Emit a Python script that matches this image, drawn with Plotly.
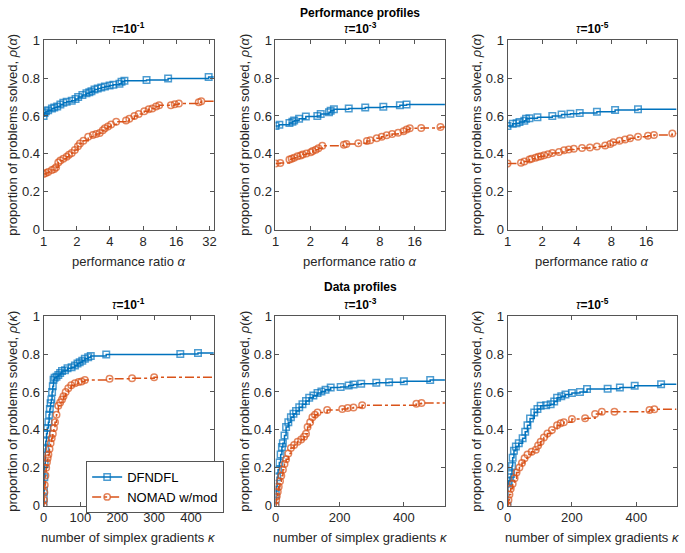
import math
import plotly.graph_objects as go
from plotly.subplots import make_subplots

# ---------------- data ----------------
# Performance profiles, tau = 1e-1
pp1_dfn_alpha = [1.00, 1.02, 1.05, 1.10, 1.19, 1.25, 1.33, 1.42, 1.51, 1.62, 1.80, 1.95, 2.06, 2.25, 2.45,
                 2.60, 2.72, 2.90, 3.10, 3.34, 3.60, 3.97, 4.30, 4.88, 5.10, 5.42, 8.60, 13.5, 31.5]
pp1_dfn_rho = [0.600, 0.615, 0.625, 0.630, 0.640, 0.645, 0.650, 0.660, 0.670, 0.675, 0.680, 0.690, 0.700, 0.710, 0.720,
               0.725, 0.730, 0.740, 0.745, 0.750, 0.755, 0.760, 0.765, 0.770, 0.780, 0.785, 0.790, 0.797, 0.805]
pp1_nom_alpha = [1.00, 1.05, 1.10, 1.19, 1.25, 1.30, 1.36, 1.42, 1.51, 1.62, 1.70, 1.80, 1.92, 2.05, 2.14, 2.30,
                 2.54, 2.80, 3.00, 3.23, 3.45, 3.60, 3.84, 4.10, 4.56, 5.60, 6.00, 6.67, 7.30, 8.20, 9.00, 9.70,
                 10.5, 11.2, 14.3, 15.5, 16.9, 25.6, 27.0]
pp1_nom_rho = [0.294, 0.300, 0.305, 0.315, 0.320, 0.330, 0.355, 0.365, 0.375, 0.385, 0.395, 0.405, 0.420, 0.440,
               0.455, 0.470, 0.490, 0.500, 0.505, 0.510, 0.525, 0.535, 0.545, 0.555, 0.570, 0.576, 0.585, 0.600,
               0.610, 0.625, 0.635, 0.640, 0.650, 0.656, 0.657, 0.662, 0.666, 0.672, 0.678]

# Performance profiles, tau = 1e-3
pp3_dfn_alpha = [1.00, 1.08, 1.32, 1.40, 1.45, 1.60, 1.83, 2.30, 2.46, 2.90, 3.00, 3.20, 4.30, 5.97, 8.56, 11.9, 13.6]
pp3_dfn_rho = [0.547, 0.554, 0.563, 0.570, 0.576, 0.585, 0.597, 0.600, 0.610, 0.619, 0.628, 0.636, 0.640, 0.645,
               0.649, 0.656, 0.660]
pp3_nom_alpha = [1.00, 1.10, 1.32, 1.38, 1.45, 1.55, 1.65, 1.72, 1.85, 2.02, 2.10, 2.23, 2.35, 2.54, 3.90, 4.10,
                 5.20, 6.17, 6.60, 7.50, 8.30, 9.15, 10.2, 11.5, 12.8, 13.6, 14.5, 18.2, 26.7]
pp3_nom_rho = [0.350, 0.352, 0.370, 0.375, 0.380, 0.388, 0.392, 0.397, 0.402, 0.409, 0.415, 0.422, 0.430, 0.443,
               0.448, 0.452, 0.456, 0.468, 0.472, 0.482, 0.490, 0.499, 0.505, 0.511, 0.520, 0.528, 0.535, 0.537,
               0.542]

# Performance profiles, tau = 1e-5
pp5_dfn_alpha = [1.00, 1.11, 1.20, 1.27, 1.40, 1.45, 1.55, 1.82, 2.45, 2.95, 3.52, 4.24, 5.98, 8.60, 13.6]
pp5_dfn_rho = [0.547, 0.559, 0.562, 0.568, 0.575, 0.585, 0.588, 0.593, 0.600, 0.608, 0.612, 0.615, 0.622, 0.631,
               0.636]
pp5_nom_alpha = [1.00, 1.31, 1.40, 1.55, 1.62, 1.75, 1.85, 1.95, 2.08, 2.25, 2.45, 2.80, 3.10, 3.40, 3.77, 4.44,
                 5.20, 5.98, 7.05, 7.80, 8.30, 9.40, 10.5, 11.6, 13.6, 16.6, 18.7, 27.0]
pp5_nom_rho = [0.349, 0.354, 0.360, 0.371, 0.375, 0.380, 0.385, 0.388, 0.393, 0.398, 0.405, 0.410, 0.419, 0.423,
               0.427, 0.431, 0.434, 0.439, 0.444, 0.452, 0.462, 0.470, 0.476, 0.482, 0.491, 0.496, 0.500, 0.508]

# Data profiles, tau = 1e-1
dp1_dfn_kappa = [0, 0.5, 1, 2, 3, 4.5, 6, 8, 10, 13, 15, 17, 19, 21, 23, 25, 27, 30, 35, 40, 45, 50, 58, 65, 76,
                 85, 92, 98, 105, 112, 121, 128, 170, 371, 419]
dp1_dfn_rho = [0.0, 0.04, 0.08, 0.15, 0.22, 0.30, 0.34, 0.38, 0.41, 0.44, 0.48, 0.51, 0.54, 0.56, 0.60, 0.63, 0.665,
               0.675, 0.68, 0.69, 0.70, 0.71, 0.715, 0.725, 0.73, 0.74, 0.75, 0.757, 0.765, 0.775, 0.783, 0.79,
               0.797, 0.80, 0.805]
dp1_nom_kappa = [0, 1, 2, 3, 5, 7, 9, 11, 13, 16, 19, 22, 25, 28, 31, 35, 40, 45, 50, 54, 60, 67, 75, 85, 95, 103,
                 112, 179, 240, 300]
dp1_nom_rho = [0.0, 0.03, 0.07, 0.11, 0.16, 0.20, 0.23, 0.25, 0.27, 0.30, 0.33, 0.356, 0.38, 0.41, 0.44, 0.48,
               0.527, 0.545, 0.56, 0.578, 0.60, 0.62, 0.635, 0.646, 0.652, 0.655, 0.663, 0.669, 0.672, 0.678]

# Data profiles, tau = 1e-3
dp3_dfn_kappa = [0, 1, 2, 5, 8, 12, 16, 20, 23, 28, 33, 40, 48, 56, 64, 74, 84, 95, 105, 118, 131, 143, 156, 172,
                 203, 228, 243, 267, 314, 354, 400, 482]
dp3_dfn_rho = [0.0, 0.06, 0.10, 0.15, 0.19, 0.228, 0.27, 0.31, 0.33, 0.37, 0.415, 0.44, 0.467, 0.485, 0.50, 0.52,
               0.535, 0.552, 0.569, 0.582, 0.595, 0.603, 0.612, 0.624, 0.626, 0.634, 0.640, 0.643, 0.648, 0.651,
               0.656, 0.663]
dp3_nom_kappa = [0, 2, 4, 7, 10, 14, 18, 23, 28, 33, 40, 48, 58, 69, 80, 89, 95, 100, 108, 115, 123, 131, 161, 208,
                 225, 243, 270, 439, 455]
dp3_nom_rho = [0.0, 0.03, 0.05, 0.074, 0.10, 0.13, 0.159, 0.19, 0.22, 0.245, 0.275, 0.305, 0.32, 0.338, 0.35,
               0.364, 0.38, 0.415, 0.44, 0.467, 0.48, 0.492, 0.505, 0.51, 0.515, 0.518, 0.53, 0.538, 0.542]

# Data profiles, tau = 1e-5
dp5_dfn_kappa = [0, 1, 4, 8, 11, 14, 16, 20, 26, 35, 47, 55, 62, 70, 83, 93, 103, 120, 134, 145, 154, 167, 180, 200,
                 225, 247, 311, 349, 395, 477]
dp5_dfn_rho = [0.0, 0.116, 0.13, 0.15, 0.168, 0.21, 0.253, 0.29, 0.313, 0.33, 0.356, 0.39, 0.424, 0.46, 0.492,
               0.51, 0.527, 0.53, 0.535, 0.55, 0.569, 0.578, 0.587, 0.595, 0.60, 0.615, 0.617, 0.624, 0.633, 0.641]
dp5_nom_kappa = [0, 3, 6, 10, 16, 22, 28, 37, 45, 53, 62, 75, 88, 95, 103, 113, 124, 138, 154, 165, 175, 200, 241,
                 272, 293, 332, 441, 456]
dp5_nom_rho = [0.0, 0.03, 0.06, 0.09, 0.116, 0.145, 0.175, 0.202, 0.225, 0.25, 0.27, 0.285, 0.296, 0.318, 0.338,
               0.36, 0.381, 0.40, 0.424, 0.435, 0.441, 0.458, 0.462, 0.484, 0.496, 0.496, 0.505, 0.509]

tau_labels = ["10<sup>-1</sup>", "10<sup>-3</sup>", "10<sup>-5</sup>"]
series_names = ["DFNDFL", "NOMAD w/mod"]
pp_xmax = [35.1, 29.2, 29.4]
dp_xmax = [462, 528, 525]
pp_ticks = [[1, 2, 4, 8, 16, 32], [1, 2, 4, 8, 16], [1, 2, 4, 8, 16]]
dp_ticks = [[0, 100, 200, 300, 400], [0, 200, 400], [0, 200, 400]]

# ---------------- figure ----------------
W, H = 685, 553
BLUE = "#0072BD"
ORANGE = "#D95319"
FONT = "Liberation Sans, Arial, sans-serif"
TXT = "#262626"

fig = make_subplots(rows=2, cols=3)

col_px = [(40, 212), (274.3, 445.5), (508.7, 679.5)]
row_px = [(34, 229), (317.7, 512.7)]


def add_curve(x, y, xend, row, col, color, symbol, dash, name, showlegend):
    xs = list(x) + [xend]
    ys = list(y) + [y[-1]]
    sizes = [6.5] * len(x) + [0]
    fig.add_trace(go.Scatter(
        x=xs, y=ys, mode="lines+markers", line=dict(color=color, width=1.5, dash=dash, shape="hv"),
        marker=dict(symbol=symbol, size=sizes, color=color, line=dict(color=color, width=1.5)),
        name=name, showlegend=showlegend, legendgroup=name), row=row, col=col)


pp_data = [(pp1_dfn_alpha, pp1_dfn_rho, pp1_nom_alpha, pp1_nom_rho),
           (pp3_dfn_alpha, pp3_dfn_rho, pp3_nom_alpha, pp3_nom_rho),
           (pp5_dfn_alpha, pp5_dfn_rho, pp5_nom_alpha, pp5_nom_rho)]
dp_data = [(dp1_dfn_kappa, dp1_dfn_rho, dp1_nom_kappa, dp1_nom_rho),
           (dp3_dfn_kappa, dp3_dfn_rho, dp3_nom_kappa, dp3_nom_rho),
           (dp5_dfn_kappa, dp5_dfn_rho, dp5_nom_kappa, dp5_nom_rho)]

for c in range(3):
    xa, ya, xb, yb = pp_data[c]
    add_curve(xa, ya, pp_xmax[c], 1, c + 1, BLUE, "square-open", "solid", series_names[0], False)
    add_curve(xb, yb, pp_xmax[c], 1, c + 1, ORANGE, "circle-open", "dashdot", series_names[1], False)
    xa, ya, xb, yb = dp_data[c]
    add_curve(xa, ya, dp_xmax[c], 2, c + 1, BLUE, "square-open", "solid", series_names[0], c == 0)
    add_curve(xb, yb, dp_xmax[c], 2, c + 1, ORANGE, "circle-open", "dashdot", series_names[1], c == 0)

axis_common = dict(showline=True, linecolor="#555555", linewidth=1, mirror="ticks", ticks="inside",
                   ticklen=4, tickcolor="#555555", showgrid=False, zeroline=False,
                   tickfont=dict(family=FONT, size=13, color=TXT))

for r in range(2):
    for c in range(3):
        idx = r * 3 + c + 1
        xd = [col_px[c][0] / W, col_px[c][1] / W]
        yd = [1 - row_px[r][1] / H, 1 - row_px[r][0] / H]
        xkey = "xaxis" if idx == 1 else f"xaxis{idx}"
        ykey = "yaxis" if idx == 1 else f"yaxis{idx}"
        if r == 0:
            xcfg = dict(type="log", range=[0, math.log10(pp_xmax[c])], tickvals=pp_ticks[c],
                        ticktext=[str(v) for v in pp_ticks[c]])
        else:
            xcfg = dict(type="linear", range=[0, dp_xmax[c]], tickvals=dp_ticks[c],
                        ticktext=[str(v) for v in dp_ticks[c]])
        fig.layout[xkey].update(domain=xd, **xcfg, **axis_common)
        fig.layout[ykey].update(domain=yd, range=[0, 1], tickvals=[0, 0.2, 0.4, 0.6, 0.8, 1],
                                ticktext=["0", "0.2", "0.4", "0.6", "0.8", "1"], **axis_common)

annotations = []
# section titles
annotations.append(dict(text="<b>Performance profiles</b>", x=(col_px[1][0] + col_px[1][1]) / 2 / W, y=1 - 6 / H,
                        xref="paper", yref="paper", showarrow=False, xanchor="center", yanchor="middle",
                        font=dict(family=FONT, size=12, color="#000000")))
annotations.append(dict(text="<b>Data profiles</b>", x=(col_px[1][0] + col_px[1][1]) / 2 / W, y=1 - 288 / H,
                        xref="paper", yref="paper", showarrow=False, xanchor="center", yanchor="middle",
                        font=dict(family=FONT, size=12, color="#000000")))
for r, ty in enumerate([22, 305]):
    for c in range(3):
        annotations.append(dict(text=f"<i>τ</i><b>={tau_labels[c]}</b>",
                                x=(col_px[c][0] + col_px[c][1]) / 2 / W, y=1 - ty / H,
                                xref="paper", yref="paper", showarrow=False, xanchor="center", yanchor="middle",
                                font=dict(family=FONT, size=12, color="#000000")))
# axis titles
ytitles = ["proportion of problems solved, <i>ρ</i>(<i>α</i>)", "proportion of problems solved, <i>ρ</i>(<i>κ</i>)"]
xtitles = ["performance ratio <i>α</i>", "number of simplex gradients <i>κ</i>"]
xtitle_y = [262, 545]
for r in range(2):
    for c in range(3):
        annotations.append(dict(text=ytitles[r], x=(col_px[c][0] - 31) / W,
                                y=1 - (row_px[r][0] + row_px[r][1]) / 2 / H,
                                xref="paper", yref="paper", showarrow=False, textangle=-90,
                                xanchor="center", yanchor="middle",
                                font=dict(family=FONT, size=13, color=TXT)))
        annotations.append(dict(text=xtitles[r], x=(col_px[c][0] + col_px[c][1]) / 2 / W,
                                y=1 - xtitle_y[r] / H,
                                xref="paper", yref="paper", showarrow=False,
                                xanchor="center", yanchor="middle",
                                font=dict(family=FONT, size=13, color=TXT)))

fig.update_layout(
    width=W, height=H, margin=dict(l=0, r=0, t=0, b=0),
    paper_bgcolor="white", plot_bgcolor="white",
    annotations=annotations,
    legend=dict(x=83 / W, y=1 - 466.7 / H, xanchor="left", yanchor="top", bgcolor="white",
                bordercolor="#555555", borderwidth=1, font=dict(family=FONT, size=13, color="#000000"),
                tracegroupgap=0, itemwidth=30),
    font=dict(family=FONT),
)

fig.write_html("out.html", config={"displayModeBar": False},
               post_script="document.body.style.margin='0px';")
